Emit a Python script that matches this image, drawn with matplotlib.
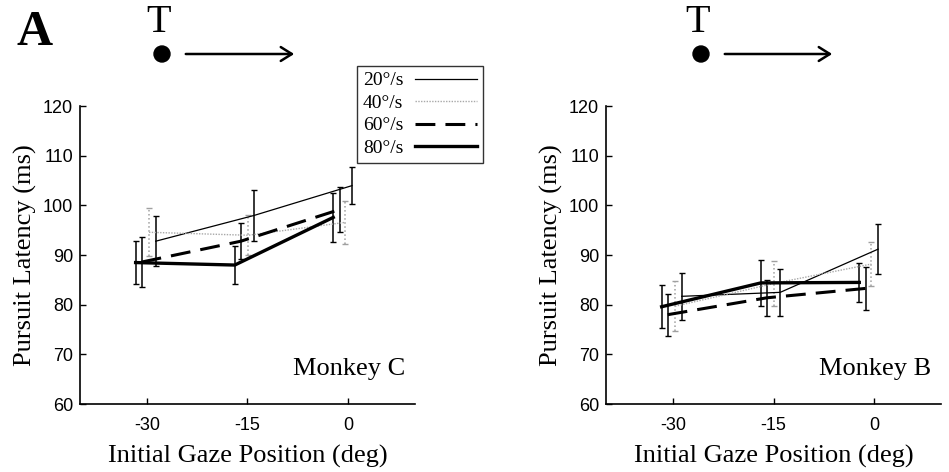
import numpy as np
import matplotlib
matplotlib.use("Agg")
import matplotlib.pyplot as plt

plt.rcParams["axes.unicode_minus"] = False

# speeds and gaze positions (slightly offset per speed, as in the figure)
speeds = ["20°/s", "40°/s", "60°/s", "80°/s"]
x_20 = [-28.7, -14.0, 0.6]
x_40 = [-29.7, -14.9, -0.4]
x_60 = [-30.8, -16.0, -1.2]
x_80 = [-31.7, -16.9, -2.2]

# Monkey C
c_20 = [92.8, 98.0, 104.0]
c_20_err = [5.0, 5.1, 3.8]
c_40 = [94.6, 94.0, 96.6]
c_40_err = [4.8, 4.0, 4.3]
c_60 = [88.6, 92.8, 99.2]
c_60_err = [5.0, 3.6, 4.5]
c_80 = [88.5, 88.0, 97.6]
c_80_err = [4.4, 3.9, 4.9]

# Monkey B
b_20 = [81.7, 82.5, 91.2]
b_20_err = [4.7, 4.8, 5.0]
b_40 = [79.7, 84.3, 88.2]
b_40_err = [5.0, 4.5, 4.5]
b_60 = [78.0, 81.4, 83.3]
b_60_err = [4.2, 3.6, 4.4]
b_80 = [79.6, 84.4, 84.5]
b_80_err = [4.3, 4.6, 3.9]

serif = "Liberation Serif"
sans = "Liberation Sans"

fig = plt.figure(figsize=(9.49, 4.72), dpi=100)
ax_c = fig.add_axes([0.0843, 0.144, 0.353, 0.631])
ax_b = fig.add_axes([0.6386, 0.144, 0.353, 0.631])

styles = [
    dict(color="black", lw=0.9, ls="-"),
    dict(color="#a8a8a8", lw=1.0, ls=(0, (1, 1))),
    dict(color="black", lw=2.2, ls=(0, (6.5, 3.3))),
    dict(color="black", lw=2.4, ls="-"),
]

panels = [
    (ax_c, [c_20, c_40, c_60, c_80], [c_20_err, c_40_err, c_60_err, c_80_err], "Monkey C"),
    (ax_b, [b_20, b_40, b_60, b_80], [b_20_err, b_40_err, b_60_err, b_80_err], "Monkey B"),
]
xs = [x_20, x_40, x_60, x_80]

handles = []
for ax, ys, errs, name in panels:
    hs = []
    for i in range(4):
        st = styles[i]
        bar_col = "#a0a0a0" if i == 1 else "black"
        eb = ax.errorbar(xs[i], ys[i], yerr=errs[i], color=st["color"], lw=st["lw"],
                         ecolor=bar_col, elinewidth=1.1, capsize=2, capthick=1.0)
        eb[0].set_linestyle(st["ls"])
        if i == 1:
            eb[2][0].set_linestyle(":")
        hs.append(eb[0])
    handles = hs

    ax.set_xlim(-40, 10)
    ax.set_ylim(60, 120)
    ax.set_xticks([-30, -15, 0])
    ax.set_yticks(np.arange(60, 121, 10))
    ax.spines["top"].set_visible(False)
    ax.spines["right"].set_visible(False)
    for s in ["left", "bottom"]:
        ax.spines[s].set_linewidth(1.2)
    ax.tick_params(direction="in", length=4, width=1, labelsize=13, pad=5)
    ax.tick_params(axis="x", pad=9)
    for lab in ax.get_xticklabels() + ax.get_yticklabels():
        lab.set_family(sans)
    ax.set_xlabel("Initial Gaze Position (deg)", family=serif, fontsize=19, labelpad=8)
    ax.set_ylabel("Pursuit Latency (ms)", family=serif, fontsize=19, labelpad=4)
    ax.text(0.97, 0.08, name, transform=ax.transAxes, ha="right", va="bottom",
            family=serif, fontsize=19)

# panel letter and target cartoons
fig.text(35 / 949, 1 - 33 / 472, "A", family=serif, fontsize=36, fontweight="bold",
         ha="center", va="center")
for tx, ax0, ax1 in [(159, 183, 297), (698, 722, 835)]:
    fig.text(tx / 949, 1 - 23 / 472, "T", family=serif, fontsize=29, ha="center", va="center")
    fig.patches.append(matplotlib.patches.Ellipse(((tx + 3) / 949, 1 - 54 / 472), 16 / 949, 16 / 472,
                                                  transform=fig.transFigure, color="black"))
    fig.add_artist(matplotlib.patches.FancyArrowPatch((ax0 / 949, 1 - 54 / 472), (ax1 / 949, 1 - 54 / 472),
                                                      transform=fig.transFigure, arrowstyle="->,head_length=8,head_width=5",
                                                      mutation_scale=1, lw=1.8, color="black"))

leg = fig.legend(handles, speeds, loc="upper left", bbox_to_anchor=(357 / 949, 1 - 66 / 472),
                 prop={"family": serif, "size": 14}, frameon=True, fancybox=False,
                 edgecolor="black", handlelength=3.2, handletextpad=0.6, borderpad=0.3,
                 labelspacing=0.25, borderaxespad=0, markerfirst=False)
leg.get_frame().set_linewidth(1.0)

fig.savefig("out.png", dpi=100)
